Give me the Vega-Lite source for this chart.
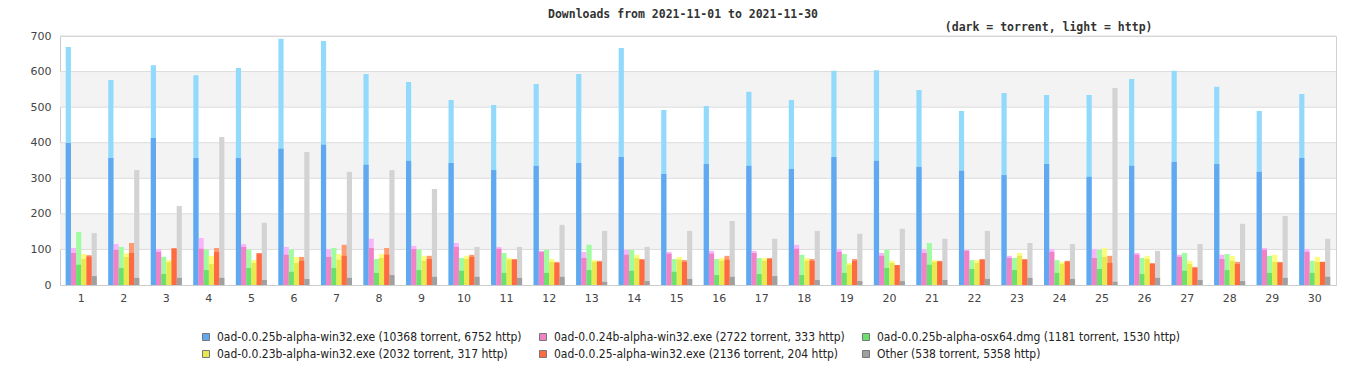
{
  "$schema": "https://vega.github.io/schema/vega-lite/v6.json",
  "width": 1276,
  "height": 249,
  "autosize": {"type": "none"},
  "padding": {"left": 60, "top": 36, "right": 30, "bottom": 95},
  "background": "white",
  "config": {
    "view": {"stroke": "#d0d0d0", "strokeWidth": 1},
    "font": "DejaVu Sans",
    "axisY": {"title": null, "values": [0, 100, 200, 300, 400, 500, 600, 700], "grid": false, "ticks": false, "domainColor": "#cccccc", "labelColor": "#444", "labelFont": "DejaVu Sans", "labelFontSize": 11, "labelPadding": 9}
  },
  "title": {
    "text": "Downloads from 2021-11-01 to 2021-11-30",
    "font": "DejaVu Sans Mono",
    "fontSize": 11.5,
    "fontWeight": "bold",
    "color": "#333",
    "anchor": "middle",
    "offset": 1,
    "dx": -15
  },
  "datasets": {
    "bands": [{"lo": 100, "hi": 200}, {"lo": 300, "hi": 400}, {"lo": 500, "hi": 600}],
    "grid": [{"v": 100}, {"v": 200}, {"v": 300}, {"v": 400}, {"v": 500}, {"v": 600}, {"v": 700}],
    "dl": [
{"day":1,"file":"0ad-0.0.25b-alpha-win32.exe (10368 torrent, 6752 http)","torrent":399,"total":669},
{"day":1,"file":"0ad-0.0.24b-alpha-win32.exe (2722 torrent, 333 http)","torrent":90,"total":104},
{"day":1,"file":"0ad-0.0.25b-alpha-osx64.dmg (1181 torrent, 1530 http)","torrent":57,"total":149},
{"day":1,"file":"0ad-0.0.23b-alpha-win32.exe (2032 torrent, 317 http)","torrent":73,"total":87},
{"day":1,"file":"0ad-0.0.25-alpha-win32.exe (2136 torrent, 204 http)","torrent":80,"total":84},
{"day":1,"file":"Other (538 torrent, 5358 http)","torrent":25,"total":146},
{"day":2,"file":"0ad-0.0.25b-alpha-win32.exe (10368 torrent, 6752 http)","torrent":357,"total":576},
{"day":2,"file":"0ad-0.0.24b-alpha-win32.exe (2722 torrent, 333 http)","torrent":99,"total":115},
{"day":2,"file":"0ad-0.0.25b-alpha-osx64.dmg (1181 torrent, 1530 http)","torrent":48,"total":107},
{"day":2,"file":"0ad-0.0.23b-alpha-win32.exe (2032 torrent, 317 http)","torrent":79,"total":89},
{"day":2,"file":"0ad-0.0.25-alpha-win32.exe (2136 torrent, 204 http)","torrent":90,"total":118},
{"day":2,"file":"Other (538 torrent, 5358 http)","torrent":20,"total":323},
{"day":3,"file":"0ad-0.0.25b-alpha-win32.exe (10368 torrent, 6752 http)","torrent":413,"total":618},
{"day":3,"file":"0ad-0.0.24b-alpha-win32.exe (2722 torrent, 333 http)","torrent":93,"total":101},
{"day":3,"file":"0ad-0.0.25b-alpha-osx64.dmg (1181 torrent, 1530 http)","torrent":31,"total":79},
{"day":3,"file":"0ad-0.0.23b-alpha-win32.exe (2032 torrent, 317 http)","torrent":64,"total":70},
{"day":3,"file":"0ad-0.0.25-alpha-win32.exe (2136 torrent, 204 http)","torrent":102,"total":104},
{"day":3,"file":"Other (538 torrent, 5358 http)","torrent":20,"total":222},
{"day":4,"file":"0ad-0.0.25b-alpha-win32.exe (10368 torrent, 6752 http)","torrent":357,"total":590},
{"day":4,"file":"0ad-0.0.24b-alpha-win32.exe (2722 torrent, 333 http)","torrent":102,"total":132},
{"day":4,"file":"0ad-0.0.25b-alpha-osx64.dmg (1181 torrent, 1530 http)","torrent":42,"total":100},
{"day":4,"file":"0ad-0.0.23b-alpha-win32.exe (2032 torrent, 317 http)","torrent":59,"total":82},
{"day":4,"file":"0ad-0.0.25-alpha-win32.exe (2136 torrent, 204 http)","torrent":93,"total":104},
{"day":4,"file":"Other (538 torrent, 5358 http)","torrent":20,"total":416},
{"day":5,"file":"0ad-0.0.25b-alpha-win32.exe (10368 torrent, 6752 http)","torrent":357,"total":610},
{"day":5,"file":"0ad-0.0.24b-alpha-win32.exe (2722 torrent, 333 http)","torrent":107,"total":115},
{"day":5,"file":"0ad-0.0.25b-alpha-osx64.dmg (1181 torrent, 1530 http)","torrent":48,"total":100},
{"day":5,"file":"0ad-0.0.23b-alpha-win32.exe (2032 torrent, 317 http)","torrent":62,"total":70},
{"day":5,"file":"0ad-0.0.25-alpha-win32.exe (2136 torrent, 204 http)","torrent":88,"total":90},
{"day":5,"file":"Other (538 torrent, 5358 http)","torrent":14,"total":175},
{"day":6,"file":"0ad-0.0.25b-alpha-win32.exe (10368 torrent, 6752 http)","torrent":383,"total":692},
{"day":6,"file":"0ad-0.0.24b-alpha-win32.exe (2722 torrent, 333 http)","torrent":85,"total":107},
{"day":6,"file":"0ad-0.0.25b-alpha-osx64.dmg (1181 torrent, 1530 http)","torrent":37,"total":100},
{"day":6,"file":"0ad-0.0.23b-alpha-win32.exe (2032 torrent, 317 http)","torrent":62,"total":79},
{"day":6,"file":"0ad-0.0.25-alpha-win32.exe (2136 torrent, 204 http)","torrent":68,"total":79},
{"day":6,"file":"Other (538 torrent, 5358 http)","torrent":17,"total":374},
{"day":7,"file":"0ad-0.0.25b-alpha-win32.exe (10368 torrent, 6752 http)","torrent":394,"total":686},
{"day":7,"file":"0ad-0.0.24b-alpha-win32.exe (2722 torrent, 333 http)","torrent":79,"total":101},
{"day":7,"file":"0ad-0.0.25b-alpha-osx64.dmg (1181 torrent, 1530 http)","torrent":48,"total":104},
{"day":7,"file":"0ad-0.0.23b-alpha-win32.exe (2032 torrent, 317 http)","torrent":71,"total":87},
{"day":7,"file":"0ad-0.0.25-alpha-win32.exe (2136 torrent, 204 http)","torrent":82,"total":113},
{"day":7,"file":"Other (538 torrent, 5358 http)","torrent":20,"total":318},
{"day":8,"file":"0ad-0.0.25b-alpha-win32.exe (10368 torrent, 6752 http)","torrent":338,"total":593},
{"day":8,"file":"0ad-0.0.24b-alpha-win32.exe (2722 torrent, 333 http)","torrent":104,"total":130},
{"day":8,"file":"0ad-0.0.25b-alpha-osx64.dmg (1181 torrent, 1530 http)","torrent":34,"total":73},
{"day":8,"file":"0ad-0.0.23b-alpha-win32.exe (2032 torrent, 317 http)","torrent":76,"total":87},
{"day":8,"file":"0ad-0.0.25-alpha-win32.exe (2136 torrent, 204 http)","torrent":85,"total":104},
{"day":8,"file":"Other (538 torrent, 5358 http)","torrent":28,"total":323},
{"day":9,"file":"0ad-0.0.25b-alpha-win32.exe (10368 torrent, 6752 http)","torrent":349,"total":571},
{"day":9,"file":"0ad-0.0.24b-alpha-win32.exe (2722 torrent, 333 http)","torrent":101,"total":110},
{"day":9,"file":"0ad-0.0.25b-alpha-osx64.dmg (1181 torrent, 1530 http)","torrent":42,"total":100},
{"day":9,"file":"0ad-0.0.23b-alpha-win32.exe (2032 torrent, 317 http)","torrent":68,"total":82},
{"day":9,"file":"0ad-0.0.25-alpha-win32.exe (2136 torrent, 204 http)","torrent":73,"total":82},
{"day":9,"file":"Other (538 torrent, 5358 http)","torrent":23,"total":270},
{"day":10,"file":"0ad-0.0.25b-alpha-win32.exe (10368 torrent, 6752 http)","torrent":343,"total":520},
{"day":10,"file":"0ad-0.0.24b-alpha-win32.exe (2722 torrent, 333 http)","torrent":107,"total":118},
{"day":10,"file":"0ad-0.0.25b-alpha-osx64.dmg (1181 torrent, 1530 http)","torrent":40,"total":76},
{"day":10,"file":"0ad-0.0.23b-alpha-win32.exe (2032 torrent, 317 http)","torrent":73,"total":82},
{"day":10,"file":"0ad-0.0.25-alpha-win32.exe (2136 torrent, 204 http)","torrent":79,"total":85},
{"day":10,"file":"Other (538 torrent, 5358 http)","torrent":23,"total":107},
{"day":11,"file":"0ad-0.0.25b-alpha-win32.exe (10368 torrent, 6752 http)","torrent":323,"total":506},
{"day":11,"file":"0ad-0.0.24b-alpha-win32.exe (2722 torrent, 333 http)","torrent":102,"total":107},
{"day":11,"file":"0ad-0.0.25b-alpha-osx64.dmg (1181 torrent, 1530 http)","torrent":34,"total":90},
{"day":11,"file":"0ad-0.0.23b-alpha-win32.exe (2032 torrent, 317 http)","torrent":71,"total":76},
{"day":11,"file":"0ad-0.0.25-alpha-win32.exe (2136 torrent, 204 http)","torrent":71,"total":73},
{"day":11,"file":"Other (538 torrent, 5358 http)","torrent":20,"total":107},
{"day":12,"file":"0ad-0.0.25b-alpha-win32.exe (10368 torrent, 6752 http)","torrent":335,"total":565},
{"day":12,"file":"0ad-0.0.24b-alpha-win32.exe (2722 torrent, 333 http)","torrent":93,"total":96},
{"day":12,"file":"0ad-0.0.25b-alpha-osx64.dmg (1181 torrent, 1530 http)","torrent":34,"total":99},
{"day":12,"file":"0ad-0.0.23b-alpha-win32.exe (2032 torrent, 317 http)","torrent":65,"total":73},
{"day":12,"file":"0ad-0.0.25-alpha-win32.exe (2136 torrent, 204 http)","torrent":62,"total":65},
{"day":12,"file":"Other (538 torrent, 5358 http)","torrent":23,"total":169},
{"day":13,"file":"0ad-0.0.25b-alpha-win32.exe (10368 torrent, 6752 http)","torrent":343,"total":593},
{"day":13,"file":"0ad-0.0.24b-alpha-win32.exe (2722 torrent, 333 http)","torrent":76,"total":93},
{"day":13,"file":"0ad-0.0.25b-alpha-osx64.dmg (1181 torrent, 1530 http)","torrent":42,"total":113},
{"day":13,"file":"0ad-0.0.23b-alpha-win32.exe (2032 torrent, 317 http)","torrent":65,"total":70},
{"day":13,"file":"0ad-0.0.25-alpha-win32.exe (2136 torrent, 204 http)","torrent":65,"total":68},
{"day":13,"file":"Other (538 torrent, 5358 http)","torrent":9,"total":152},
{"day":14,"file":"0ad-0.0.25b-alpha-win32.exe (10368 torrent, 6752 http)","torrent":360,"total":666},
{"day":14,"file":"0ad-0.0.24b-alpha-win32.exe (2722 torrent, 333 http)","torrent":85,"total":99},
{"day":14,"file":"0ad-0.0.25b-alpha-osx64.dmg (1181 torrent, 1530 http)","torrent":40,"total":99},
{"day":14,"file":"0ad-0.0.23b-alpha-win32.exe (2032 torrent, 317 http)","torrent":76,"total":85},
{"day":14,"file":"0ad-0.0.25-alpha-win32.exe (2136 torrent, 204 http)","torrent":71,"total":73},
{"day":14,"file":"Other (538 torrent, 5358 http)","torrent":11,"total":107},
{"day":15,"file":"0ad-0.0.25b-alpha-win32.exe (10368 torrent, 6752 http)","torrent":312,"total":492},
{"day":15,"file":"0ad-0.0.24b-alpha-win32.exe (2722 torrent, 333 http)","torrent":88,"total":93},
{"day":15,"file":"0ad-0.0.25b-alpha-osx64.dmg (1181 torrent, 1530 http)","torrent":37,"total":73},
{"day":15,"file":"0ad-0.0.23b-alpha-win32.exe (2032 torrent, 317 http)","torrent":71,"total":79},
{"day":15,"file":"0ad-0.0.25-alpha-win32.exe (2136 torrent, 204 http)","torrent":65,"total":70},
{"day":15,"file":"Other (538 torrent, 5358 http)","torrent":17,"total":152},
{"day":16,"file":"0ad-0.0.25b-alpha-win32.exe (10368 torrent, 6752 http)","torrent":340,"total":503},
{"day":16,"file":"0ad-0.0.24b-alpha-win32.exe (2722 torrent, 333 http)","torrent":88,"total":96},
{"day":16,"file":"0ad-0.0.25b-alpha-osx64.dmg (1181 torrent, 1530 http)","torrent":28,"total":73},
{"day":16,"file":"0ad-0.0.23b-alpha-win32.exe (2032 torrent, 317 http)","torrent":68,"total":76},
{"day":16,"file":"0ad-0.0.25-alpha-win32.exe (2136 torrent, 204 http)","torrent":71,"total":82},
{"day":16,"file":"Other (538 torrent, 5358 http)","torrent":23,"total":180},
{"day":17,"file":"0ad-0.0.25b-alpha-win32.exe (10368 torrent, 6752 http)","torrent":335,"total":543},
{"day":17,"file":"0ad-0.0.24b-alpha-win32.exe (2722 torrent, 333 http)","torrent":90,"total":96},
{"day":17,"file":"0ad-0.0.25b-alpha-osx64.dmg (1181 torrent, 1530 http)","torrent":31,"total":76},
{"day":17,"file":"0ad-0.0.23b-alpha-win32.exe (2032 torrent, 317 http)","torrent":68,"total":76},
{"day":17,"file":"0ad-0.0.25-alpha-win32.exe (2136 torrent, 204 http)","torrent":73,"total":76},
{"day":17,"file":"Other (538 torrent, 5358 http)","torrent":25,"total":130},
{"day":18,"file":"0ad-0.0.25b-alpha-win32.exe (10368 torrent, 6752 http)","torrent":326,"total":520},
{"day":18,"file":"0ad-0.0.24b-alpha-win32.exe (2722 torrent, 333 http)","torrent":102,"total":113},
{"day":18,"file":"0ad-0.0.25b-alpha-osx64.dmg (1181 torrent, 1530 http)","torrent":28,"total":85},
{"day":18,"file":"0ad-0.0.23b-alpha-win32.exe (2032 torrent, 317 http)","torrent":68,"total":76},
{"day":18,"file":"0ad-0.0.25-alpha-win32.exe (2136 torrent, 204 http)","torrent":68,"total":73},
{"day":18,"file":"Other (538 torrent, 5358 http)","torrent":14,"total":152},
{"day":19,"file":"0ad-0.0.25b-alpha-win32.exe (10368 torrent, 6752 http)","torrent":360,"total":602},
{"day":19,"file":"0ad-0.0.24b-alpha-win32.exe (2722 torrent, 333 http)","torrent":93,"total":101},
{"day":19,"file":"0ad-0.0.25b-alpha-osx64.dmg (1181 torrent, 1530 http)","torrent":34,"total":87},
{"day":19,"file":"0ad-0.0.23b-alpha-win32.exe (2032 torrent, 317 http)","torrent":57,"total":62},
{"day":19,"file":"0ad-0.0.25-alpha-win32.exe (2136 torrent, 204 http)","torrent":68,"total":73},
{"day":19,"file":"Other (538 torrent, 5358 http)","torrent":11,"total":144},
{"day":20,"file":"0ad-0.0.25b-alpha-win32.exe (10368 torrent, 6752 http)","torrent":349,"total":604},
{"day":20,"file":"0ad-0.0.24b-alpha-win32.exe (2722 torrent, 333 http)","torrent":82,"total":90},
{"day":20,"file":"0ad-0.0.25b-alpha-osx64.dmg (1181 torrent, 1530 http)","torrent":48,"total":99},
{"day":20,"file":"0ad-0.0.23b-alpha-win32.exe (2032 torrent, 317 http)","torrent":62,"total":68},
{"day":20,"file":"0ad-0.0.25-alpha-win32.exe (2136 torrent, 204 http)","torrent":56,"total":56},
{"day":20,"file":"Other (538 torrent, 5358 http)","torrent":11,"total":158},
{"day":21,"file":"0ad-0.0.25b-alpha-win32.exe (10368 torrent, 6752 http)","torrent":332,"total":548},
{"day":21,"file":"0ad-0.0.24b-alpha-win32.exe (2722 torrent, 333 http)","torrent":90,"total":101},
{"day":21,"file":"0ad-0.0.25b-alpha-osx64.dmg (1181 torrent, 1530 http)","torrent":57,"total":118},
{"day":21,"file":"0ad-0.0.23b-alpha-win32.exe (2032 torrent, 317 http)","torrent":65,"total":70},
{"day":21,"file":"0ad-0.0.25-alpha-win32.exe (2136 torrent, 204 http)","torrent":66,"total":68},
{"day":21,"file":"Other (538 torrent, 5358 http)","torrent":14,"total":130},
{"day":22,"file":"0ad-0.0.25b-alpha-win32.exe (10368 torrent, 6752 http)","torrent":321,"total":489},
{"day":22,"file":"0ad-0.0.24b-alpha-win32.exe (2722 torrent, 333 http)","torrent":96,"total":99},
{"day":22,"file":"0ad-0.0.25b-alpha-osx64.dmg (1181 torrent, 1530 http)","torrent":45,"total":70},
{"day":22,"file":"0ad-0.0.23b-alpha-win32.exe (2032 torrent, 317 http)","torrent":62,"total":70},
{"day":22,"file":"0ad-0.0.25-alpha-win32.exe (2136 torrent, 204 http)","torrent":71,"total":73},
{"day":22,"file":"Other (538 torrent, 5358 http)","torrent":17,"total":152},
{"day":23,"file":"0ad-0.0.25b-alpha-win32.exe (10368 torrent, 6752 http)","torrent":309,"total":540},
{"day":23,"file":"0ad-0.0.24b-alpha-win32.exe (2722 torrent, 333 http)","torrent":76,"total":82},
{"day":23,"file":"0ad-0.0.25b-alpha-osx64.dmg (1181 torrent, 1530 http)","torrent":42,"total":76},
{"day":23,"file":"0ad-0.0.23b-alpha-win32.exe (2032 torrent, 317 http)","torrent":82,"total":90},
{"day":23,"file":"0ad-0.0.25-alpha-win32.exe (2136 torrent, 204 http)","torrent":71,"total":73},
{"day":23,"file":"Other (538 torrent, 5358 http)","torrent":20,"total":118},
{"day":24,"file":"0ad-0.0.25b-alpha-win32.exe (10368 torrent, 6752 http)","torrent":340,"total":534},
{"day":24,"file":"0ad-0.0.24b-alpha-win32.exe (2722 torrent, 333 http)","torrent":93,"total":101},
{"day":24,"file":"0ad-0.0.25b-alpha-osx64.dmg (1181 torrent, 1530 http)","torrent":34,"total":70},
{"day":24,"file":"0ad-0.0.23b-alpha-win32.exe (2032 torrent, 317 http)","torrent":59,"total":65},
{"day":24,"file":"0ad-0.0.25-alpha-win32.exe (2136 torrent, 204 http)","torrent":66,"total":68},
{"day":24,"file":"Other (538 torrent, 5358 http)","torrent":17,"total":115},
{"day":25,"file":"0ad-0.0.25b-alpha-win32.exe (10368 torrent, 6752 http)","torrent":304,"total":534},
{"day":25,"file":"0ad-0.0.24b-alpha-win32.exe (2722 torrent, 333 http)","torrent":76,"total":101},
{"day":25,"file":"0ad-0.0.25b-alpha-osx64.dmg (1181 torrent, 1530 http)","torrent":45,"total":99},
{"day":25,"file":"0ad-0.0.23b-alpha-win32.exe (2032 torrent, 317 http)","torrent":79,"total":104},
{"day":25,"file":"0ad-0.0.25-alpha-win32.exe (2136 torrent, 204 http)","torrent":62,"total":82},
{"day":25,"file":"Other (538 torrent, 5358 http)","torrent":9,"total":554},
{"day":26,"file":"0ad-0.0.25b-alpha-win32.exe (10368 torrent, 6752 http)","torrent":335,"total":579},
{"day":26,"file":"0ad-0.0.24b-alpha-win32.exe (2722 torrent, 333 http)","torrent":85,"total":90},
{"day":26,"file":"0ad-0.0.25b-alpha-osx64.dmg (1181 torrent, 1530 http)","torrent":31,"total":76},
{"day":26,"file":"0ad-0.0.23b-alpha-win32.exe (2032 torrent, 317 http)","torrent":73,"total":82},
{"day":26,"file":"0ad-0.0.25-alpha-win32.exe (2136 torrent, 204 http)","torrent":59,"total":62},
{"day":26,"file":"Other (538 torrent, 5358 http)","torrent":20,"total":96},
{"day":27,"file":"0ad-0.0.25b-alpha-win32.exe (10368 torrent, 6752 http)","torrent":346,"total":602},
{"day":27,"file":"0ad-0.0.24b-alpha-win32.exe (2722 torrent, 333 http)","torrent":79,"total":85},
{"day":27,"file":"0ad-0.0.25b-alpha-osx64.dmg (1181 torrent, 1530 http)","torrent":40,"total":90},
{"day":27,"file":"0ad-0.0.23b-alpha-win32.exe (2032 torrent, 317 http)","torrent":59,"total":68},
{"day":27,"file":"0ad-0.0.25-alpha-win32.exe (2136 torrent, 204 http)","torrent":48,"total":51},
{"day":27,"file":"Other (538 torrent, 5358 http)","torrent":14,"total":115},
{"day":28,"file":"0ad-0.0.25b-alpha-win32.exe (10368 torrent, 6752 http)","torrent":340,"total":557},
{"day":28,"file":"0ad-0.0.24b-alpha-win32.exe (2722 torrent, 333 http)","torrent":73,"total":85},
{"day":28,"file":"0ad-0.0.25b-alpha-osx64.dmg (1181 torrent, 1530 http)","torrent":42,"total":87},
{"day":28,"file":"0ad-0.0.23b-alpha-win32.exe (2032 torrent, 317 http)","torrent":68,"total":82},
{"day":28,"file":"0ad-0.0.25-alpha-win32.exe (2136 torrent, 204 http)","torrent":59,"total":65},
{"day":28,"file":"Other (538 torrent, 5358 http)","torrent":11,"total":172},
{"day":29,"file":"0ad-0.0.25b-alpha-win32.exe (10368 torrent, 6752 http)","torrent":318,"total":489},
{"day":29,"file":"0ad-0.0.24b-alpha-win32.exe (2722 torrent, 333 http)","torrent":99,"total":104},
{"day":29,"file":"0ad-0.0.25b-alpha-osx64.dmg (1181 torrent, 1530 http)","torrent":34,"total":82},
{"day":29,"file":"0ad-0.0.23b-alpha-win32.exe (2032 torrent, 317 http)","torrent":65,"total":85},
{"day":29,"file":"0ad-0.0.25-alpha-win32.exe (2136 torrent, 204 http)","torrent":63,"total":65},
{"day":29,"file":"Other (538 torrent, 5358 http)","torrent":20,"total":194},
{"day":30,"file":"0ad-0.0.25b-alpha-win32.exe (10368 torrent, 6752 http)","torrent":357,"total":537},
{"day":30,"file":"0ad-0.0.24b-alpha-win32.exe (2722 torrent, 333 http)","torrent":93,"total":101},
{"day":30,"file":"0ad-0.0.25b-alpha-osx64.dmg (1181 torrent, 1530 http)","torrent":34,"total":68},
{"day":30,"file":"0ad-0.0.23b-alpha-win32.exe (2032 torrent, 317 http)","torrent":65,"total":79},
{"day":30,"file":"0ad-0.0.25-alpha-win32.exe (2136 torrent, 204 http)","torrent":65,"total":65},
{"day":30,"file":"Other (538 torrent, 5358 http)","torrent":23,"total":130}
    ]
  },
  "data": {"name": "dl"},
  "layer": [
    {
      "data": {"name": "bands"},
      "mark": {"type": "rect", "color": "#f3f3f3"},
      "encoding": {
        "y": {"field": "lo", "type": "quantitative", "scale": {"domain": [0, 700], "nice": false}},
        "y2": {"field": "hi"}
      }
    },
    {
      "data": {"name": "grid"},
      "mark": {"type": "rule", "color": "#dcdcdc", "strokeWidth": 1},
      "encoding": {
        "y": {"field": "v", "type": "quantitative", "scale": {"domain": [0, 700], "nice": false}}
      }
    },
    {
      "mark": {"type": "bar"},
      "encoding": {
        "x": {
          "field": "day", "type": "ordinal",
          "scale": {"paddingInner": 0.27, "paddingOuter": 0.135},
          "axis": {"orient": "bottom", "title": null, "labelAngle": 0, "ticks": false, "domainColor": "#cccccc", "labelColor": "#444", "labelFont": "DejaVu Sans", "labelFontSize": 11, "labelPadding": 7}
        },
        "xOffset": {"field": "file", "type": "nominal", "sort": null},
        "y": {"field": "total", "type": "quantitative", "scale": {"domain": [0, 700], "nice": false}, "stack": null},
        "color": {
          "field": "file", "type": "nominal", "legend": null,
          "scale": {
            "domain": ["0ad-0.0.25b-alpha-win32.exe (10368 torrent, 6752 http)", "0ad-0.0.24b-alpha-win32.exe (2722 torrent, 333 http)", "0ad-0.0.25b-alpha-osx64.dmg (1181 torrent, 1530 http)", "0ad-0.0.23b-alpha-win32.exe (2032 torrent, 317 http)", "0ad-0.0.25-alpha-win32.exe (2136 torrent, 204 http)", "Other (538 torrent, 5358 http)"],
            "range": ["#92dafc", "#fab4fa", "#a0fca0", "#fcfc80", "#ff9a70", "#d3d3d3"]
          }
        }
      }
    },
    {
      "mark": {"type": "bar"},
      "encoding": {
        "x": {
          "field": "day", "type": "ordinal",
          "scale": {"paddingInner": 0.27, "paddingOuter": 0.135},
          "axis": {"orient": "top", "labels": false, "ticks": false, "domain": false, "title": "(dark = torrent, light = http)", "titleFont": "DejaVu Sans Mono", "titleFontSize": 11.5, "titleFontWeight": "bold", "titleColor": "#333", "titleAnchor": "end", "titleAlign": "right", "titleX": 1092, "titleY": -4, "titleBaseline": "bottom"}
        },
        "xOffset": {"field": "file", "type": "nominal", "sort": null},
        "y": {"field": "torrent", "type": "quantitative", "scale": {"domain": [0, 700], "nice": false}, "stack": null},
        "color": {
          "field": "file", "type": "nominal",
          "scale": {
            "domain": ["0ad-0.0.25b-alpha-win32.exe (10368 torrent, 6752 http)", "0ad-0.0.24b-alpha-win32.exe (2722 torrent, 333 http)", "0ad-0.0.25b-alpha-osx64.dmg (1181 torrent, 1530 http)", "0ad-0.0.23b-alpha-win32.exe (2032 torrent, 317 http)", "0ad-0.0.25-alpha-win32.exe (2136 torrent, 204 http)", "Other (538 torrent, 5358 http)"],
            "range": ["#60a8f0", "#f082c8", "#6ce06c", "#e8e850", "#ff6a40", "#a0a0a0"]
          },
          "legend": {
            "orient": "none", "legendX": 140, "legendY": 295, "direction": "horizontal", "columns": 3,
            "title": null, "symbolType": "square", "symbolSize": 49, "symbolStrokeColor": "#777", "symbolStrokeWidth": 1, "symbolOpacity": 1,
            "labelFont": "DejaVu Sans Condensed, DejaVu Sans", "labelFontSize": 12, "labelColor": "#222", "labelLimit": 400,
            "columnPadding": 15, "rowPadding": 5, "labelOffset": 5
          }
        }
      }
    }
  ],
  "resolve": {"scale": {"color": "independent"}}
}
